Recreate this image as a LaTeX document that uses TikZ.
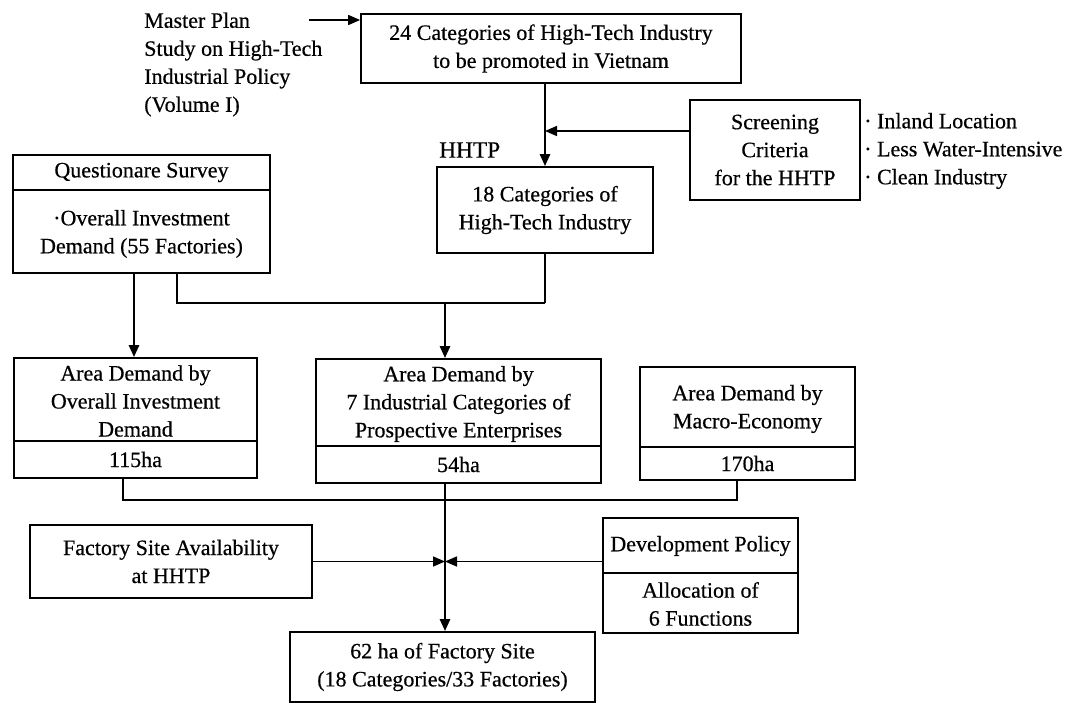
\documentclass[tikz,border=0pt]{standalone}
\usepackage{fontspec}
\setmainfont{Liberation Serif}[FakeBold=0.5]
\usetikzlibrary{arrows.meta}
\begin{document}
\begin{tikzpicture}[x=0.75pt,y=-0.75pt,
  box/.style={draw, line width=1.3pt, inner sep=0pt, align=center, font=\fontsize{16.5}{21}\selectfont},
  txt/.style={inner sep=0pt, align=center, font=\fontsize{16.5}{21}\selectfont},
  con/.style={line width=1.2pt},
  vcon/.style={line width=1.7pt},
  arr/.style={line width=1.9pt, -{Triangle[length=9pt,width=7.5pt]}},
  harr/.style={line width=1.2pt, -{Triangle[length=9pt,width=7.5pt]}}]
\useasboundingbox (0,0) rectangle (1078,703);

% top text and boxes
\node[txt, align=left, anchor=west] (M) at (144,64.5) {Master Plan\\Study on High-Tech\\Industrial Policy\\(Volume I)};
\node[box, minimum width=285pt, minimum height=51.75pt] (A) at (551,48.5) {24 Categories of High-Tech Industry\\to be promoted in Vietnam};
\node[box, minimum width=127.5pt, minimum height=75pt] (S) at (775,150) {Screening\\Criteria\\for the HHTP};
\node[txt, align=left, anchor=west] (L) at (864,151) {· Inland Location\\· Less Water-Intensive\\· Clean Industry};
\node[inner sep=0pt, anchor=west, font=\fontsize{17.5}{21}\selectfont] (H) at (439,150) {HHTP};
\node[box, minimum width=162pt, minimum height=64.5pt] (B) at (545,210) {18 Categories of\\High-Tech Industry};

% questionnaire
\node[box, minimum width=192.75pt, minimum height=88.5pt] (Q) at (141.5,214) {};
\draw[con] (Q.west |- 0,190) -- (Q.east |- 0,190);
\node[txt] (Qt) at (141.5,172.5) {Questionare Survey};
\node[txt] (Qb) at (141.5,234) {·Overall Investment\\Demand (55 Factories)};

% area demand boxes
\node[box, minimum width=182.25pt, minimum height=90pt] (LB) at (135.5,418) {};
\draw[con] (LB.west |- 0,441) -- (LB.east |- 0,441);
\node[txt] (LBt) at (135.5,401) {Area Demand by\\Overall Investment\\Demand};
\node[txt] (LBb) at (135.5,459.5) {115ha};

\node[box, minimum width=213.75pt, minimum height=93pt] (MB) at (458.5,421) {};
\draw[con] (MB.west |- 0,446) -- (MB.east |- 0,446);
\node[txt] (MBt) at (458.5,404) {Area Demand by\\7 Industrial Categories of\\Prospective Enterprises};
\node[txt] (MBb) at (458.5,464.5) {54ha};

\node[box, minimum width=161.25pt, minimum height=84.75pt] (RB) at (747.5,423.5) {};
\draw[con] (RB.west |- 0,447) -- (RB.east |- 0,447);
\node[txt] (RBt) at (747.5,409) {Area Demand by\\Macro-Economy};
\node[txt] (RBb) at (747.5,463.5) {170ha};

% bottom
\node[box, minimum width=211.5pt, minimum height=54.75pt] (FB) at (171,561.5) {Factory Site Availability\\at HHTP};
\node[box, minimum width=146.25pt, minimum height=86.25pt] (DP) at (700.5,575.5) {};
\draw[con] (DP.west |- 0,573) -- (DP.east |- 0,573);
\node[txt] (DPt) at (700.5,546) {Development Policy};
\node[txt] (DPb) at (700.5,604) {Allocation of\\6 Functions};
\node[box, minimum width=228.75pt, minimum height=52.5pt] (F) at (442.5,667) {62 ha of Factory Site\\(18 Categories/33 Factories)};

% connectors
\coordinate (m0) at (309,20);
\coordinate (s0) at (0,131);
\coordinate (qa) at (134,0);
\coordinate (qb) at (177,0);
\coordinate (j1) at (0,303);
\coordinate (cx) at (445,0);
\coordinate (j2) at (0,500);
\coordinate (la) at (123,0);
\coordinate (ra) at (737,0);

\draw[harr] (m0) -- (m0 -| A.west);
\draw[arr] (B.north |- A.south) -- (B.north);
\draw[harr] (S.west |- s0) -- (B.north |- s0);
\draw[arr] (Q.south -| qa) -- (LB.north -| qa);
\draw[con] (Q.south -| qb) |- (B.south |- j1);
\draw[vcon] (B.south |- j1) -- (B.south);
\draw[arr] (cx |- j1) -- (cx |- MB.north);
\draw[con] (LB.south -| la) |- (ra |- j2) -- (RB.south -| ra);
\draw[arr] (cx |- MB.south) -- (cx |- F.north);
\draw[harr] (FB.east) -- (FB.east -| cx);
\draw[harr] (FB.east -| DP.west) -- (FB.east -| cx);
\end{tikzpicture}
\end{document}
